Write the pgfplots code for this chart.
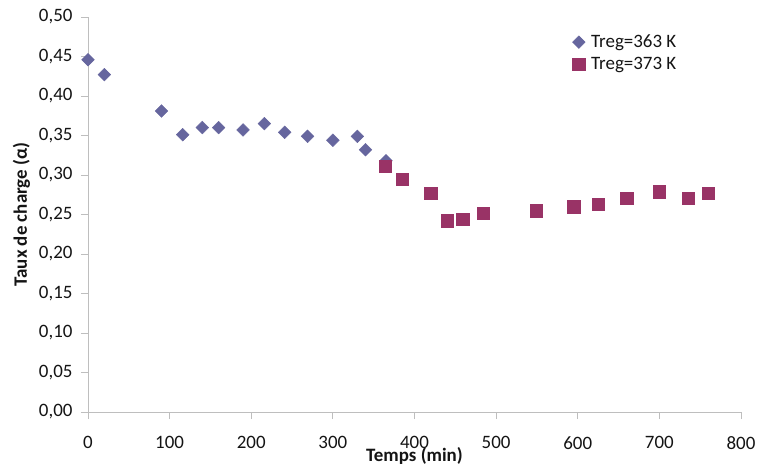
\documentclass[border=0pt]{standalone}
\usepackage{fontspec}
\setmainfont{Carlito}
\usepackage{pgfplots}
\pgfplotsset{compat=1.18}
\definecolor{serA}{RGB}{102,102,158}
\definecolor{serB}{RGB}{153,51,102}
\definecolor{axgray}{RGB}{190,190,190}
\definecolor{txt}{RGB}{20,20,20}
\begin{document}
\begin{tikzpicture}
\begin{axis}[
  scale only axis, width=653bp, height=395bp,
  xmin=0, xmax=800, ymin=0, ymax=0.5,
  axis lines=left,
  axis line style={draw=axgray, line width=0.8bp, -},
  xtick={0,100,200,300,400,500,600,700,800},
  ytick={0,0.05,0.1,0.15,0.2,0.25,0.3,0.35,0.4,0.45,0.5},
  tick align=outside, major tick length=7bp,
  tick style={draw=axgray, line width=0.8bp},
  /pgf/number format/assume math mode=true,
  yticklabel style={/pgf/number format/fixed, /pgf/number format/fixed zerofill,
    /pgf/number format/precision=2, /pgf/number format/use comma, xshift=-5bp},
  tick label style={font=\fontsize{19}{21}\selectfont, text=txt},
  xticklabel style={yshift=-14bp},
  xlabel={\textbf{Temps (min)}},
  ylabel={\textbf{Taux de charge (α)}},
  label style={font=\fontsize{19}{21}\selectfont, text=txt},
  xlabel style={at={(axis description cs:0.5,-0.112)}, anchor=center},
  ylabel style={at={(axis description cs:-0.102,0.5)}, anchor=center},
  legend style={at={(axis description cs:0.737,0.965)}, anchor=north west,
    draw=none, fill=none, font=\fontsize{19}{21}\selectfont, text=txt,
    row sep=4bp, column sep=4bp, legend cell align=left},
]
\addplot[only marks, mark=square*, mark size=4.5bp, color=serA,
  every mark/.append style={rotate=45}] coordinates {
(0,0.446) (20,0.427) (90,0.381) (116,0.351) (140,0.360) (160,0.360)
(190,0.357) (216,0.365) (241,0.354) (269,0.349) (300,0.344) (330,0.349)
(340,0.332) (365,0.318)
};
\addlegendentry{Treg=363 K}
\addplot[only marks, mark=square*, mark size=6.2bp, color=serB] coordinates {
(364,0.311) (385,0.295) (420,0.277) (440,0.242) (459,0.244) (484,0.252)
(549,0.255) (595,0.260) (625,0.263) (660,0.271) (700,0.279) (735,0.271)
(760,0.277)
};
\addlegendentry{Treg=373 K}
\end{axis}
\pgfresetboundingbox
\path ([xshift=-88bp,yshift=-55bp]current axis.south west) rectangle ([xshift=16bp,yshift=17bp]current axis.north east);
\end{tikzpicture}
\end{document}
